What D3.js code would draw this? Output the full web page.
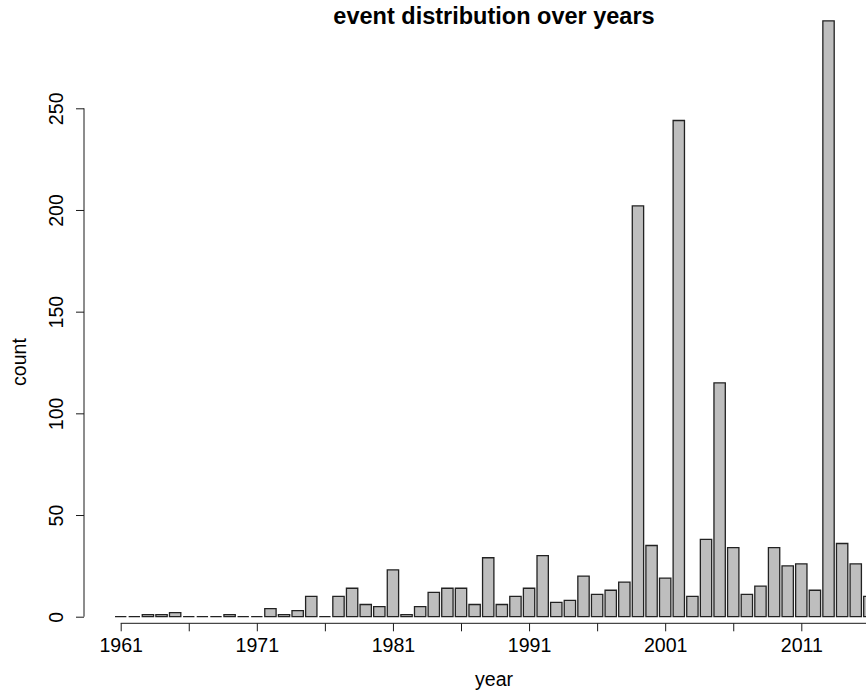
<!DOCTYPE html>
<html>
<head>
<meta charset="utf-8">
<script src="https://cdn.jsdelivr.net/npm/d3@7"></script>
<style>
  html, body { margin: 0; padding: 0; background: #fff; }
  svg { display: block; font-family: "Liberation Sans", Arial, sans-serif; }
</style>
</head>
<body>
<svg id="chart" width="866" height="693"></svg>
<script>
// Yearly event counts, 1961–2016
const years = d3.range(1961, 2017);
const counts = [
  0, 0, 1, 1, 2, 0, 0, 0, 1, 0,          // 1961–1970
  0, 4, 1, 3, 10, 0, 10, 14, 6, 5,       // 1971–1980
  23, 1, 5, 12, 14, 14, 6, 29, 6, 10,    // 1981–1990
  14, 30, 7, 8, 20, 11, 13, 17, 202, 35, // 1991–2000
  19, 244, 10, 38, 115, 34, 11, 15, 34, 25, // 2001–2010
  26, 13, 293, 36, 26, 10                // 2011–2016
];
// ticks every five years; only every second tick carries a label
const xTickYears = d3.range(1961, 2017, 5);
const xLabelYears = d3.range(1961, 2017, 10);
const yTicks = [0, 50, 100, 150, 200, 250];

const titleText = "event distribution over years";
const xLabel = "year";
const yLabel = "count";

const svg = d3.select("#chart");

// plot geometry (the panel runs a little past the right edge of the canvas)
const left = 84, axisY = 623.3;
const step = 13.612;
const x = d3.scaleBand()
  .domain(years)
  .range([120.7 - step / 2, 120.7 - step / 2 + years.length * step])
  .paddingInner(1 / 6)
  .paddingOuter(1 / 12);
const y = d3.scaleLinear().domain([0, 250]).range([616.7, 108.3]);

const ink = "#1a1a1a";

// bars (zero-height bars still show their outline as a flat line)
svg.append("g")
  .selectAll("path")
  .data(years.map((yr, i) => ({ yr, v: counts[i] })))
  .join("path")
  .attr("d", d => {
    const x0 = x(d.yr), x1 = x0 + x.bandwidth();
    const y0 = y(0), y1 = y(d.v);
    return `M${x0},${y0}V${y1}H${x1}V${y0}Z`;
  })
  .attr("fill", "#bebebe")
  .attr("stroke", "#222")
  .attr("stroke-width", 1.3);

// x axis: line spanning first to last tick
const xc = yr => x(yr) + x.bandwidth() / 2;
const xAxis = svg.append("g")
  .attr("transform", `translate(0,${axisY})`)
  .call(d3.axisBottom(d3.scaleLinear().domain([1961, 2016]).range([xc(1961), xc(2016)]))
    .tickValues(xTickYears)
    .tickFormat(d => xLabelYears.includes(d) ? String(d) : "")
    .tickSize(8)
    .tickSizeOuter(0)
    .tickPadding(7));
xAxis.select(".domain").attr("stroke", ink).attr("d", `M${xc(1961)},0H${xc(2016)}`);
xAxis.selectAll(".tick line").attr("stroke", ink);
xAxis.selectAll(".tick text")
  .attr("font-size", 19.6)
  .attr("fill", "#000")
  .attr("font-family", "Liberation Sans, Arial, sans-serif");

// y axis with rotated labels
const yAxis = svg.append("g")
  .attr("transform", `translate(${left},0)`)
  .call(d3.axisLeft(y).tickValues(yTicks).tickSize(8).tickSizeOuter(0).tickFormat(d3.format("d")));
yAxis.select(".domain").attr("stroke", ink).attr("d", `M0,${y(0)}V${y(250)}`);
yAxis.selectAll(".tick line").attr("stroke", ink);
yAxis.selectAll(".tick text")
  .attr("font-size", 19.6)
  .attr("fill", "#000")
  .attr("font-family", "Liberation Sans, Arial, sans-serif")
  .attr("x", null).attr("dy", null)
  .attr("text-anchor", "middle")
  .attr("transform", "translate(-21.5,0) rotate(-90)");

// title and axis titles
svg.append("text")
  .attr("x", 494).attr("y", 24)
  .attr("text-anchor", "middle")
  .attr("font-size", 23.5)
  .attr("font-weight", "bold")
  .text(titleText);

svg.append("text")
  .attr("x", 494).attr("y", 686)
  .attr("text-anchor", "middle")
  .attr("font-size", 19.6)
  .text(xLabel);

svg.append("text")
  .attr("transform", "translate(26,362) rotate(-90)")
  .attr("text-anchor", "middle")
  .attr("font-size", 19.6)
  .text(yLabel);
</script>
</body>
</html>
